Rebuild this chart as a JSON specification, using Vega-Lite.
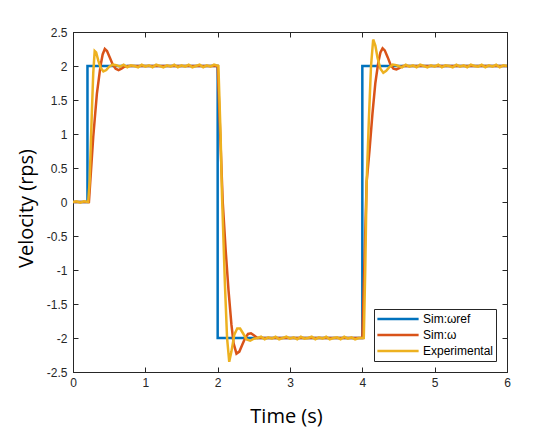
{
  "$schema": "https://vega.github.io/schema/vega-lite/v6.json",
  "autosize": {"type": "none"},
  "padding": {"left": 73, "top": 32, "right": 33, "bottom": 68},
  "width": 434,
  "height": 340,
  "background": "white",
  "config": {
    "view": {"stroke": "#262626", "strokeWidth": 1},
    "axis": {
      "domainColor": "#262626",
      "tickColor": "#262626",
      "labelColor": "#262626",
      "labelFont": "Liberation Sans",
      "labelFontSize": 12,
      "labelFlush": false,
      "labelOverlap": false,
      "titleFont": "Open Sans",
      "titleFontSize": 20,
      "titleFontWeight": "normal",
      "titleColor": "#000000",
      "grid": false,
      "tickSize": -5
    }
  },
  "data": {"values": [
    {"t": 0, "v": 0, "s": "Sim:ωref"},
    {"t": 0.2, "v": 0, "s": "Sim:ωref"},
    {"t": 0.2, "v": 2, "s": "Sim:ωref"},
    {"t": 2, "v": 2, "s": "Sim:ωref"},
    {"t": 2, "v": -2, "s": "Sim:ωref"},
    {"t": 4, "v": -2, "s": "Sim:ωref"},
    {"t": 4, "v": 2, "s": "Sim:ωref"},
    {"t": 6, "v": 2, "s": "Sim:ωref"},

    {"t": 0, "v": 0, "s": "Sim:ω"},
    {"t": 0.22, "v": 0, "s": "Sim:ω"},
    {"t": 0.28, "v": 0.96, "s": "Sim:ω"},
    {"t": 0.33, "v": 1.59, "s": "Sim:ω"},
    {"t": 0.38, "v": 2.0, "s": "Sim:ω"},
    {"t": 0.41, "v": 2.17, "s": "Sim:ω"},
    {"t": 0.44, "v": 2.25, "s": "Sim:ω"},
    {"t": 0.47, "v": 2.22, "s": "Sim:ω"},
    {"t": 0.51, "v": 2.12, "s": "Sim:ω"},
    {"t": 0.55, "v": 2.02, "s": "Sim:ω"},
    {"t": 0.59, "v": 1.96, "s": "Sim:ω"},
    {"t": 0.63, "v": 1.94, "s": "Sim:ω"},
    {"t": 0.67, "v": 1.96, "s": "Sim:ω"},
    {"t": 0.71, "v": 1.99, "s": "Sim:ω"},
    {"t": 0.76, "v": 2.0, "s": "Sim:ω"},
    {"t": 2.0, "v": 2.0, "s": "Sim:ω"},
    {"t": 2.07, "v": 0.0, "s": "Sim:ω"},
    {"t": 2.11, "v": -0.7, "s": "Sim:ω"},
    {"t": 2.15, "v": -1.3, "s": "Sim:ω"},
    {"t": 2.19, "v": -1.8, "s": "Sim:ω"},
    {"t": 2.22, "v": -2.08, "s": "Sim:ω"},
    {"t": 2.26, "v": -2.23, "s": "Sim:ω"},
    {"t": 2.3, "v": -2.2, "s": "Sim:ω"},
    {"t": 2.34, "v": -2.1, "s": "Sim:ω"},
    {"t": 2.38, "v": -2.0, "s": "Sim:ω"},
    {"t": 2.42, "v": -1.94, "s": "Sim:ω"},
    {"t": 2.46, "v": -1.93, "s": "Sim:ω"},
    {"t": 2.5, "v": -1.96, "s": "Sim:ω"},
    {"t": 2.55, "v": -2.0, "s": "Sim:ω"},
    {"t": 4.0, "v": -2.0, "s": "Sim:ω"},
    {"t": 4.06, "v": 0.3, "s": "Sim:ω"},
    {"t": 4.1, "v": 0.77, "s": "Sim:ω"},
    {"t": 4.14, "v": 1.3, "s": "Sim:ω"},
    {"t": 4.18, "v": 1.75, "s": "Sim:ω"},
    {"t": 4.22, "v": 2.05, "s": "Sim:ω"},
    {"t": 4.25, "v": 2.2, "s": "Sim:ω"},
    {"t": 4.28, "v": 2.26, "s": "Sim:ω"},
    {"t": 4.31, "v": 2.23, "s": "Sim:ω"},
    {"t": 4.35, "v": 2.13, "s": "Sim:ω"},
    {"t": 4.39, "v": 2.02, "s": "Sim:ω"},
    {"t": 4.43, "v": 1.96, "s": "Sim:ω"},
    {"t": 4.47, "v": 1.95, "s": "Sim:ω"},
    {"t": 4.51, "v": 1.97, "s": "Sim:ω"},
    {"t": 4.56, "v": 2.0, "s": "Sim:ω"},
    {"t": 6.0, "v": 2.0, "s": "Sim:ω"},

    {"t": 0, "v": 0, "s": "Experimental"},
    {"t": 0.05, "v": 0.01, "s": "Experimental"},
    {"t": 0.1, "v": -0.01, "s": "Experimental"},
    {"t": 0.15, "v": 0.01, "s": "Experimental"},
    {"t": 0.21, "v": 0, "s": "Experimental"},
    {"t": 0.23, "v": 0.3, "s": "Experimental"},
    {"t": 0.26, "v": 1.3, "s": "Experimental"},
    {"t": 0.28, "v": 1.9, "s": "Experimental"},
    {"t": 0.3, "v": 2.22, "s": "Experimental"},
    {"t": 0.32, "v": 2.2, "s": "Experimental"},
    {"t": 0.35, "v": 2.08, "s": "Experimental"},
    {"t": 0.38, "v": 1.98, "s": "Experimental"},
    {"t": 0.42, "v": 1.92, "s": "Experimental"},
    {"t": 0.46, "v": 1.94, "s": "Experimental"},
    {"t": 0.5, "v": 1.99, "s": "Experimental"},
    {"t": 0.55, "v": 2.02, "s": "Experimental"},
    {"t": 0.6, "v": 2.01, "s": "Experimental"},
    {"t": 0.65, "v": 1.99, "s": "Experimental"},
    {"t": 0.7, "v": 2.02, "s": "Experimental"},
    {"t": 0.75, "v": 1.98, "s": "Experimental"},
    {"t": 0.8, "v": 2.01, "s": "Experimental"},
    {"t": 0.85, "v": 2.0, "s": "Experimental"},
    {"t": 0.9, "v": 1.98, "s": "Experimental"},
    {"t": 0.95, "v": 2.02, "s": "Experimental"},
    {"t": 1.0, "v": 1.99, "s": "Experimental"},
    {"t": 1.05, "v": 2.01, "s": "Experimental"},
    {"t": 1.1, "v": 1.98, "s": "Experimental"},
    {"t": 1.15, "v": 2.02, "s": "Experimental"},
    {"t": 1.2, "v": 2.0, "s": "Experimental"},
    {"t": 1.25, "v": 1.98, "s": "Experimental"},
    {"t": 1.3, "v": 2.01, "s": "Experimental"},
    {"t": 1.35, "v": 1.99, "s": "Experimental"},
    {"t": 1.4, "v": 2.02, "s": "Experimental"},
    {"t": 1.45, "v": 1.98, "s": "Experimental"},
    {"t": 1.5, "v": 2.01, "s": "Experimental"},
    {"t": 1.55, "v": 1.99, "s": "Experimental"},
    {"t": 1.6, "v": 2.02, "s": "Experimental"},
    {"t": 1.65, "v": 1.98, "s": "Experimental"},
    {"t": 1.7, "v": 2.0, "s": "Experimental"},
    {"t": 1.75, "v": 2.02, "s": "Experimental"},
    {"t": 1.8, "v": 1.98, "s": "Experimental"},
    {"t": 1.85, "v": 2.01, "s": "Experimental"},
    {"t": 1.9, "v": 1.99, "s": "Experimental"},
    {"t": 1.95, "v": 2.02, "s": "Experimental"},
    {"t": 2.01, "v": 2.0, "s": "Experimental"},
    {"t": 2.04, "v": 1.0, "s": "Experimental"},
    {"t": 2.06, "v": 0.1, "s": "Experimental"},
    {"t": 2.1, "v": -1.2, "s": "Experimental"},
    {"t": 2.13, "v": -2.0, "s": "Experimental"},
    {"t": 2.16, "v": -2.35, "s": "Experimental"},
    {"t": 2.19, "v": -2.2, "s": "Experimental"},
    {"t": 2.23, "v": -1.95, "s": "Experimental"},
    {"t": 2.27, "v": -1.86, "s": "Experimental"},
    {"t": 2.31, "v": -1.86, "s": "Experimental"},
    {"t": 2.35, "v": -1.93, "s": "Experimental"},
    {"t": 2.4, "v": -2.02, "s": "Experimental"},
    {"t": 2.45, "v": -2.04, "s": "Experimental"},
    {"t": 2.5, "v": -2.01, "s": "Experimental"},
    {"t": 2.55, "v": -2.0, "s": "Experimental"},
    {"t": 2.6, "v": -1.98, "s": "Experimental"},
    {"t": 2.65, "v": -2.02, "s": "Experimental"},
    {"t": 2.7, "v": -1.99, "s": "Experimental"},
    {"t": 2.75, "v": -2.01, "s": "Experimental"},
    {"t": 2.8, "v": -1.98, "s": "Experimental"},
    {"t": 2.85, "v": -2.02, "s": "Experimental"},
    {"t": 2.9, "v": -2.0, "s": "Experimental"},
    {"t": 2.95, "v": -1.98, "s": "Experimental"},
    {"t": 3.0, "v": -2.01, "s": "Experimental"},
    {"t": 3.05, "v": -1.99, "s": "Experimental"},
    {"t": 3.1, "v": -2.02, "s": "Experimental"},
    {"t": 3.15, "v": -1.98, "s": "Experimental"},
    {"t": 3.2, "v": -2.01, "s": "Experimental"},
    {"t": 3.25, "v": -2.0, "s": "Experimental"},
    {"t": 3.3, "v": -1.98, "s": "Experimental"},
    {"t": 3.35, "v": -2.02, "s": "Experimental"},
    {"t": 3.4, "v": -1.99, "s": "Experimental"},
    {"t": 3.45, "v": -2.01, "s": "Experimental"},
    {"t": 3.5, "v": -1.98, "s": "Experimental"},
    {"t": 3.55, "v": -2.02, "s": "Experimental"},
    {"t": 3.6, "v": -2.0, "s": "Experimental"},
    {"t": 3.65, "v": -1.99, "s": "Experimental"},
    {"t": 3.7, "v": -2.02, "s": "Experimental"},
    {"t": 3.75, "v": -1.98, "s": "Experimental"},
    {"t": 3.8, "v": -2.01, "s": "Experimental"},
    {"t": 3.85, "v": -1.99, "s": "Experimental"},
    {"t": 3.9, "v": -2.02, "s": "Experimental"},
    {"t": 3.95, "v": -2.0, "s": "Experimental"},
    {"t": 4.02, "v": -2.0, "s": "Experimental"},
    {"t": 4.04, "v": -1.0, "s": "Experimental"},
    {"t": 4.06, "v": 0.3, "s": "Experimental"},
    {"t": 4.09, "v": 1.2, "s": "Experimental"},
    {"t": 4.12, "v": 2.0, "s": "Experimental"},
    {"t": 4.15, "v": 2.39, "s": "Experimental"},
    {"t": 4.18, "v": 2.3, "s": "Experimental"},
    {"t": 4.21, "v": 2.12, "s": "Experimental"},
    {"t": 4.25, "v": 1.96, "s": "Experimental"},
    {"t": 4.29, "v": 1.9, "s": "Experimental"},
    {"t": 4.33, "v": 1.93, "s": "Experimental"},
    {"t": 4.37, "v": 1.98, "s": "Experimental"},
    {"t": 4.42, "v": 2.02, "s": "Experimental"},
    {"t": 4.47, "v": 2.01, "s": "Experimental"},
    {"t": 4.5, "v": 2.0, "s": "Experimental"},
    {"t": 4.55, "v": 1.98, "s": "Experimental"},
    {"t": 4.6, "v": 2.02, "s": "Experimental"},
    {"t": 4.65, "v": 1.99, "s": "Experimental"},
    {"t": 4.7, "v": 2.01, "s": "Experimental"},
    {"t": 4.75, "v": 1.98, "s": "Experimental"},
    {"t": 4.8, "v": 2.02, "s": "Experimental"},
    {"t": 4.85, "v": 2.0, "s": "Experimental"},
    {"t": 4.9, "v": 1.98, "s": "Experimental"},
    {"t": 4.95, "v": 2.01, "s": "Experimental"},
    {"t": 5.0, "v": 1.99, "s": "Experimental"},
    {"t": 5.05, "v": 2.02, "s": "Experimental"},
    {"t": 5.1, "v": 1.98, "s": "Experimental"},
    {"t": 5.15, "v": 2.01, "s": "Experimental"},
    {"t": 5.2, "v": 2.0, "s": "Experimental"},
    {"t": 5.25, "v": 1.98, "s": "Experimental"},
    {"t": 5.3, "v": 2.02, "s": "Experimental"},
    {"t": 5.35, "v": 1.99, "s": "Experimental"},
    {"t": 5.4, "v": 2.01, "s": "Experimental"},
    {"t": 5.45, "v": 1.98, "s": "Experimental"},
    {"t": 5.5, "v": 2.02, "s": "Experimental"},
    {"t": 5.55, "v": 2.0, "s": "Experimental"},
    {"t": 5.6, "v": 1.99, "s": "Experimental"},
    {"t": 5.65, "v": 2.02, "s": "Experimental"},
    {"t": 5.7, "v": 1.98, "s": "Experimental"},
    {"t": 5.75, "v": 2.01, "s": "Experimental"},
    {"t": 5.8, "v": 1.99, "s": "Experimental"},
    {"t": 5.85, "v": 2.02, "s": "Experimental"},
    {"t": 5.9, "v": 1.98, "s": "Experimental"},
    {"t": 5.95, "v": 2.01, "s": "Experimental"},
    {"t": 6.0, "v": 2.0, "s": "Experimental"}
  ]},
  "layer": [
    {
      "mark": {"type": "line", "strokeWidth": 2.5, "clip": true},
      "encoding": {
        "x": {
          "field": "t", "type": "quantitative",
          "scale": {"domain": [0, 6], "nice": false, "zero": false},
          "axis": {"orient": "bottom", "values": [0, 1, 2, 3, 4, 5, 6], "format": "~g", "title": "Time (s)", "titleX": 213, "titleY": 44, "titleBaseline": "middle", "labelPadding": 10}
        },
        "y": {
          "field": "v", "type": "quantitative",
          "scale": {"domain": [-2.5, 2.5], "nice": false, "zero": false},
          "axis": {"orient": "left", "values": [-2.5, -2, -1.5, -1, -0.5, 0, 0.5, 1, 1.5, 2, 2.5], "format": "~g", "labelExpr": "replace(datum.label, '−', '-')", "title": "Velocity (rps)", "titleX": -47, "titleY": 176, "titleBaseline": "middle", "titleAngle": -90, "labelPadding": 11}
        },
        "color": {
          "field": "s", "type": "nominal",
          "scale": {"domain": ["Sim:ωref", "Sim:ω", "Experimental"], "range": ["#0072BD", "#D95319", "#EDB120"]},
          "legend": {
            "title": null,
            "orient": "none",
            "legendX": 301,
            "legendY": 277,
            "strokeColor": "#262626",
            "fillColor": "white",
            "padding": 2,
            "cornerRadius": 0,
            "symbolType": "stroke",
            "symbolSize": 1700,
            "symbolStrokeWidth": 2.5,
            "clipHeight": 16,
            "rowPadding": 0,
            "labelOffset": 3,
            "labelFont": "Liberation Sans",
            "labelFontSize": 12,
            "labelColor": "#000000"
          }
        },
        "order": {"value": null}
      }
    },
    {
      "mark": {"type": "point", "opacity": 0},
      "encoding": {
        "x": {
          "field": "t", "type": "quantitative",
          "scale": {"domain": [0, 6], "nice": false, "zero": false},
          "axis": {"orient": "top", "values": [0, 1, 2, 3, 4, 5, 6], "labels": false, "title": null}
        },
        "y": {
          "field": "v", "type": "quantitative",
          "scale": {"domain": [-2.5, 2.5], "nice": false, "zero": false},
          "axis": {"orient": "right", "values": [-2.5, -2, -1.5, -1, -0.5, 0, 0.5, 1, 1.5, 2, 2.5], "labels": false, "title": null}
        }
      }
    }
  ],
  "resolve": {"axis": {"x": "independent", "y": "independent"}}
}
